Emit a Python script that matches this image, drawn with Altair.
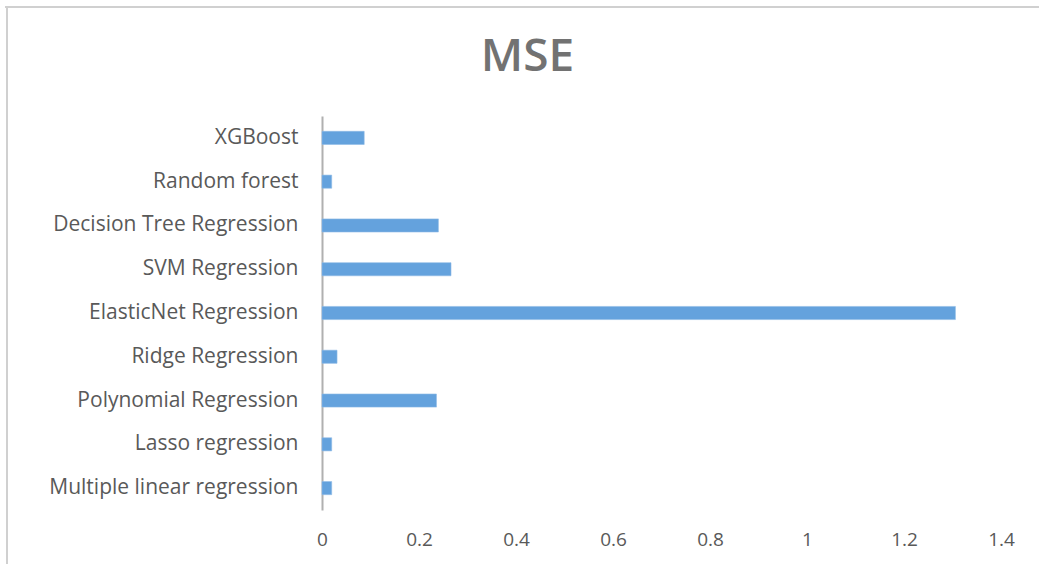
import altair as alt
import pandas as pd

models = [
    "XGBoost",
    "Random forest",
    "Decision Tree Regression",
    "SVM Regression",
    "ElasticNet Regression",
    "Ridge Regression",
    "Polynomial Regression",
    "Lasso regression",
    "Multiple linear regression",
]
mse = [0.087, 0.02, 0.24, 0.266, 1.306, 0.031, 0.236, 0.02, 0.02]
x_ticks = [0, 0.2, 0.4, 0.6, 0.8, 1.0, 1.2, 1.4]

df = pd.DataFrame({"model": models, "mse": mse})

FONT = "Open Sans"
LABEL = "#595959"

bars = alt.Chart(df).mark_bar(color="#64a2dd", stroke="#8fbbe6", strokeWidth=0.6).encode(
    y=alt.Y(
        "model:N",
        sort=models,
        title=None,
        scale=alt.Scale(paddingInner=0.7, paddingOuter=0.35),
        axis=alt.Axis(
            ticks=False,
            domainColor="#b0b0b0",
            domainWidth=2,
            labelFont=FONT,
            labelFontSize=21,
            labelColor=LABEL,
            labelPadding=24,
            labelLimit=400,
        ),
    ),
    x=alt.X(
        "mse:Q",
        title=None,
        scale=alt.Scale(domain=[0, 1.4], nice=False),
        axis=alt.Axis(
            values=x_ticks,
            grid=False,
            ticks=False,
            domain=False,
            labelFlush=False,
            labelFont=FONT,
            labelFontSize=19,
            labelColor=LABEL,
            labelPadding=20,
            labelExpr="datum.value == 0 ? '0' : format(datum.value, '.1~f')",
        ),
    ),
)

frame_top = alt.Chart(df).mark_rule(color="#d0d0d0", strokeWidth=2).encode(
    x=alt.value(-317), x2=alt.value(760), y=alt.value(-109)
)
frame_left = alt.Chart(df).mark_rule(color="#d0d0d0", strokeWidth=2).encode(
    x=alt.value(-315), y=alt.value(-109), y2=alt.value(460)
)

chart = (
    alt.layer(frame_top, frame_left, bars)
    .properties(
        width=679,
        height=394,
        background="white",
        padding={"left": 322, "top": 116, "right": 38, "bottom": 54},
        autosize=alt.AutoSizeParams(type="none"),
        title=alt.TitleParams(
            "MSE",
            font=FONT,
            fontSize=46,
            fontWeight=600,
            color="#727272",
            anchor="middle",
            frame="group",
            dx=-134,
            offset=-75,
        ),
    )
    .configure_view(strokeWidth=0, stroke="transparent")
)

chart.save("out.html", embed_options={"renderer": "svg", "actions": False})
